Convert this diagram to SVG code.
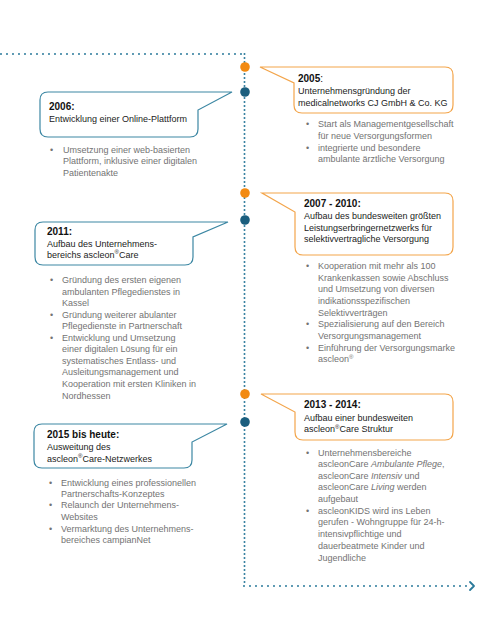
<svg xmlns="http://www.w3.org/2000/svg" width="500" height="643" viewBox="0 0 500 643">
<style>
.bg{fill:#ffffff}
.line{fill:none;stroke:#2B7A9B;stroke-width:2;stroke-linecap:round}
.h{stroke-dasharray:0 6}
.v{stroke-dasharray:0 4}
.dot-o{fill:#F28A12}
.dot-b{fill:#1B5E7E}
.cb{fill:#ffffff;stroke:#3C87A3;stroke-width:1.2}
.co{fill:#ffffff;stroke:#F3A54B;stroke-width:1.2}
.t{font-family:"Liberation Sans",Arial,sans-serif;font-size:9px;fill:#222222}
.b{font-family:"Liberation Sans",Arial,sans-serif;font-size:10px;font-weight:bold;fill:#111111}
.g{font-family:"Liberation Sans",Arial,sans-serif;font-size:9px;fill:#737373}
.sup{font-size:6px}
</style>
<rect class="bg" width="500" height="643"/>
<g id="connectors">
<path class="line h" d="M1 54 H244"/>
<path class="line v" d="M244.5 54 V586"/>
<path class="line h" d="M244 586 H468"/>
<polyline points="470,582 474,586 470,590" fill="none" stroke="#2B7A9B" stroke-width="1.8" stroke-linecap="round" stroke-linejoin="round"/>
</g>
<g id="dots">
<circle class="dot-o" cx="245" cy="67" r="4.8"/>
<circle class="dot-b" cx="245" cy="92" r="4.8"/>
<circle class="dot-o" cx="245" cy="193" r="4.8"/>
<circle class="dot-b" cx="245" cy="220" r="4.8"/>
<circle class="dot-o" cx="245" cy="394" r="4.8"/>
<circle class="dot-b" cx="245" cy="422" r="4.8"/>
</g>
<g id="n2005">
<path class="co" d="M260 67 H445 Q453 67 453 75 V105 Q453 113 445 113 H302 Q294 113 294 105 V83 Z"/>
<text class="b" x="298" y="82">2005<tspan font-weight="normal">:</tspan></text>
<text class="t" x="298" y="94">Unternehmensgründung der</text>
<text class="t" x="298" y="106">medicalnetworks CJ GmbH &amp; Co. KG</text>
<text class="g" x="306" y="127">•</text><text class="g" x="318" y="127">Start als Managementgesellschaft</text>
<text class="g" x="318" y="139">für neue Versorgungsformen</text>
<text class="g" x="306" y="151">•</text><text class="g" x="318" y="151">integrierte und besondere</text>
<text class="g" x="318" y="162">ambulante ärztliche Versorgung</text>
</g>
<g id="n2006">
<path class="cb" d="M48 92 H232 L198 110 V129 Q198 137 190 137 H48 Q40 137 40 129 V100 Q40 92 48 92 Z"/>
<text class="b" x="49" y="110">2006:</text>
<text class="t" x="49" y="122">Entwicklung einer Online-Plattform</text>
<text class="g" x="50" y="153">•</text><text class="g" x="63" y="153">Umsetzung einer web-basierten</text>
<text class="g" x="63" y="164">Plattform, inklusive einer digitalen</text>
<text class="g" x="63" y="176">Patientenakte</text>
</g>
<g id="n2007">
<path class="co" d="M262 193 H445 Q453 193 453 201 V247 Q453 255 445 255 H303 Q295 255 295 247 V212 Z"/>
<text class="b" x="304" y="207">2007 - 2010:</text>
<text class="t" x="304" y="219">Aufbau des bundesweiten größten</text>
<text class="t" x="304" y="231">Leistungserbringernetzwerks für</text>
<text class="t" x="304" y="242">selektivvertragliche Versorgung</text>
<text class="g" x="306" y="269">•</text><text class="g" x="318" y="269">Kooperation mit mehr als 100</text>
<text class="g" x="318" y="281">Krankenkassen sowie Abschluss</text>
<text class="g" x="318" y="292">und Umsetzung von diversen</text>
<text class="g" x="318" y="304">indikationsspezifischen</text>
<text class="g" x="318" y="316">Selektivverträgen</text>
<text class="g" x="306" y="327">•</text><text class="g" x="318" y="327">Spezialisierung auf den Bereich</text>
<text class="g" x="318" y="339">Versorgungsmanagement</text>
<text class="g" x="306" y="351">•</text><text class="g" x="318" y="351">Einführung der Versorgungsmarke</text>
<text class="g" x="318" y="362">ascleon<tspan class="sup" dy="-3">®</tspan></text>
</g>
<g id="n2011">
<path class="cb" d="M43 222 H228 L193 237 V257 Q193 265 185 265 H43 Q35 265 35 257 V230 Q35 222 43 222 Z"/>
<text class="b" x="47" y="235">2011:</text>
<text class="t" x="47" y="247">Aufbau des Unternehmens-</text>
<text class="t" x="47" y="258">bereichs ascleon<tspan class="sup" dy="-4">®</tspan><tspan dy="4">Care</tspan></text>
<text class="g" x="50" y="283">•</text><text class="g" x="62" y="283">Gründung des ersten eigenen</text>
<text class="g" x="62" y="295">ambulanten Pflegedienstes in</text>
<text class="g" x="62" y="306">Kassel</text>
<text class="g" x="50" y="318">•</text><text class="g" x="62" y="318">Gründung weiterer abulanter</text>
<text class="g" x="62" y="329">Pflegedienste in Partnerschaft</text>
<text class="g" x="50" y="341">•</text><text class="g" x="62" y="341">Entwicklung und Umsetzung</text>
<text class="g" x="62" y="352">einer digitalen Lösung für ein</text>
<text class="g" x="62" y="364">systematisches Entlass- und</text>
<text class="g" x="62" y="375">Ausleitungsmanagement und</text>
<text class="g" x="62" y="387">Kooperation mit ersten Kliniken in</text>
<text class="g" x="62" y="399">Nordhessen</text>
</g>
<g id="n2013">
<path class="co" d="M261 394 H445 Q453 394 453 402 V432 Q453 440 445 440 H303 Q295 440 295 432 V412 Z"/>
<text class="b" x="304" y="408">2013 - 2014:</text>
<text class="t" x="304" y="421">Aufbau einer bundesweiten</text>
<text class="t" x="304" y="432">ascleon<tspan class="sup" dy="-3">®</tspan><tspan dy="3">Care Struktur</tspan></text>
<text class="g" x="306" y="456">•</text><text class="g" x="318" y="456">Unternehmensbereiche</text>
<text class="g" x="318" y="467">ascleonCare <tspan font-style="italic">Ambulante Pflege</tspan>,</text>
<text class="g" x="318" y="479">ascleonCare <tspan font-style="italic">Intensiv</tspan> und</text>
<text class="g" x="318" y="490">ascleonCare <tspan font-style="italic">Living</tspan> werden</text>
<text class="g" x="318" y="502">aufgebaut</text>
<text class="g" x="306" y="514">•</text><text class="g" x="318" y="514">ascleonKIDS wird ins Leben</text>
<text class="g" x="318" y="525">gerufen - Wohngruppe für 24-h-</text>
<text class="g" x="318" y="537">intensivpflichtige und</text>
<text class="g" x="318" y="549">dauerbeatmete Kinder und</text>
<text class="g" x="318" y="561">Jugendliche</text>
</g>
<g id="n2015">
<path class="cb" d="M42 424 H227 L192 442 V460 Q192 468 184 468 H42 Q34 468 34 460 V432 Q34 424 42 424 Z"/>
<text class="b" x="47" y="438">2015 bis heute:</text>
<text class="t" x="47" y="450">Ausweitung des</text>
<text class="t" x="47" y="462">ascleon<tspan class="sup" dy="-4">®</tspan><tspan dy="4">Care-Netzwerkes</tspan></text>
<text class="g" x="49" y="486">•</text><text class="g" x="61" y="486">Entwicklung eines professionellen</text>
<text class="g" x="61" y="497">Partnerschafts-Konzeptes</text>
<text class="g" x="49" y="508">•</text><text class="g" x="61" y="508">Relaunch der Unternehmens-</text>
<text class="g" x="61" y="520">Websites</text>
<text class="g" x="49" y="532">•</text><text class="g" x="61" y="532">Vermarktung des Unternehmens-</text>
<text class="g" x="61" y="543">bereiches campianNet</text>
</g>
</svg>
